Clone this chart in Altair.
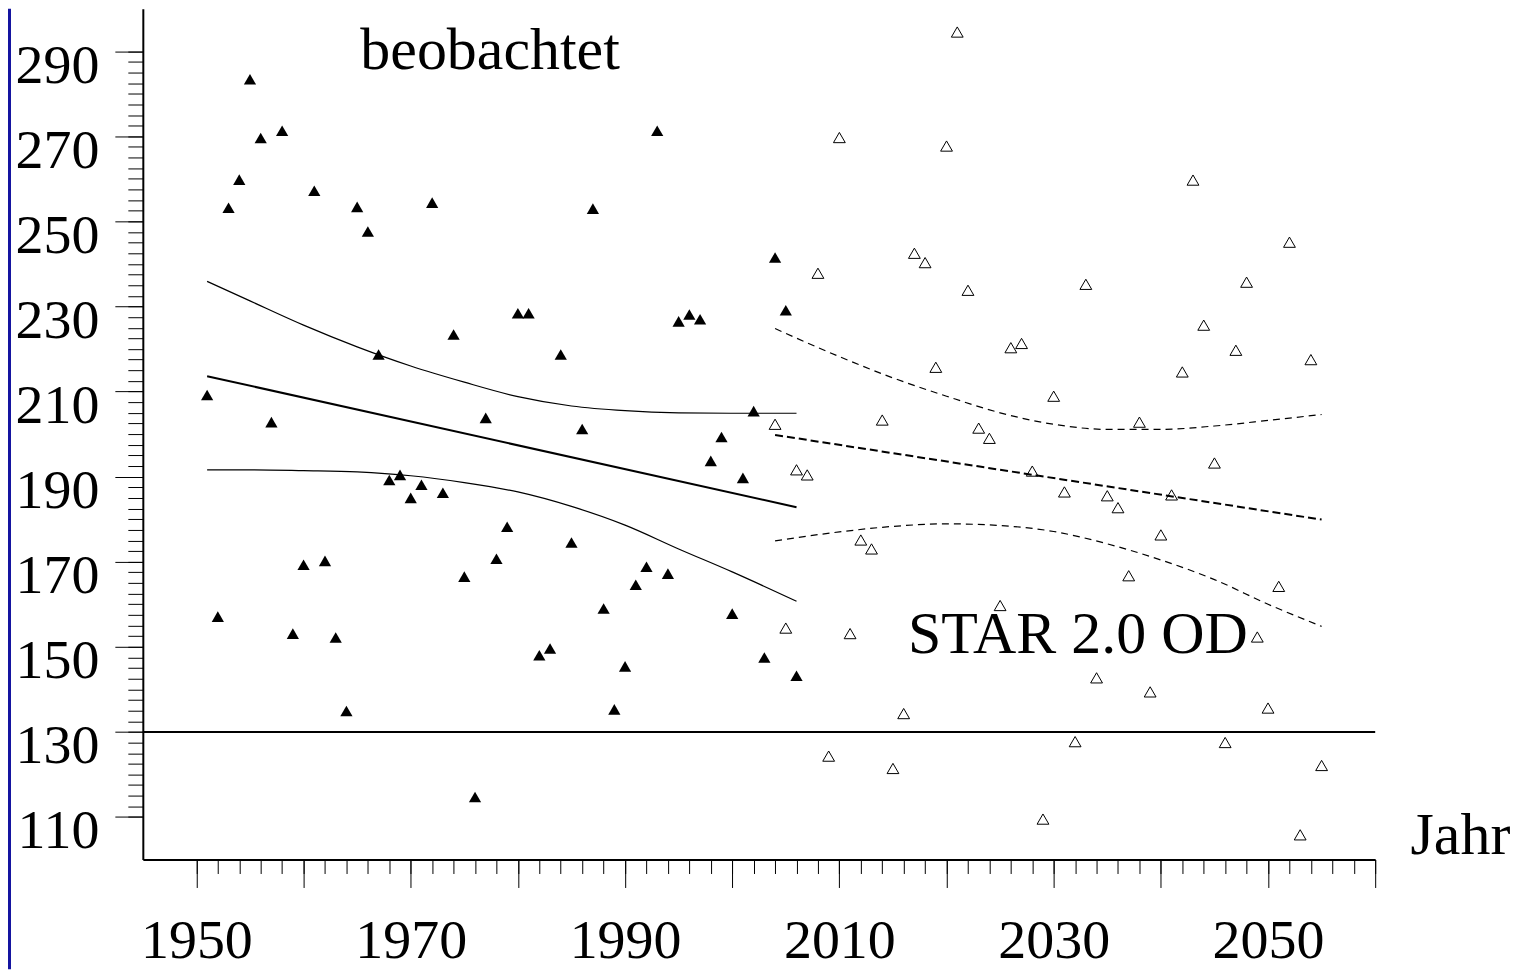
import altair as alt
import pandas as pd

FONT = "Liberation Serif"

# observed (filled triangles)
obs_years = list(range(1951, 2007))
obs_values = [209.2, 157.1, 253.2, 259.8, 283.4, 269.6, 202.8, 271.3, 153.1, 169.3,
              257.2, 170.2, 152.2, 134.9, 253.4, 247.6, 218.7, 189.2, 190.4, 185.0,
              188.1, 254.4, 186.2, 223.4, 166.5, 114.7, 203.8, 170.7, 178.2, 228.4,
              228.4, 148.0, 149.6, 218.7, 174.5, 201.2, 253.0, 159.0, 135.3, 145.4,
              164.6, 168.8, 271.3, 167.2, 226.5, 228.1, 227.0, 193.7, 199.3, 157.8,
              189.7, 205.4, 147.5, 241.5, 229.1, 143.2]

# projection (open triangles)
proj_years = list(range(2004, 2056))
proj_values = [202.3, 154.4, 191.6, 190.4, 237.8, 124.3, 269.7, 153.1, 175.1, 173.0,
               203.3, 121.4, 134.3, 242.5, 240.3, 215.7, 267.7, 294.5, 233.8, 201.4,
               199.0, 159.7, 220.3, 221.3, 191.3, 109.5, 208.9, 186.4, 127.7, 235.2,
               142.7, 185.5, 182.7, 166.7, 202.8, 139.4, 176.3, 185.7, 214.6, 259.7,
               225.6, 193.2, 127.5, 219.7, 235.7, 152.3, 135.6, 164.2, 245.1, 105.8,
               217.5, 122.1]

# observed trend and band
obs_fit_years = [1951, 2006]
obs_fit = [213.6, 182.8]
obs_band_years = [1951, 1955, 1960, 1965, 1970, 1975, 1980, 1985, 1990, 1995, 2000, 2006]
obs_upper = [235.9, 231.3, 225.6, 220.5, 216.0, 212.2, 208.8, 206.6, 205.5, 205.0, 204.9, 204.9]
obs_lower = [191.6, 191.6, 191.4, 191.1, 190.2, 188.6, 186.4, 183.0, 178.6, 173.0, 167.6, 160.7]

# projected trend and band
proj_fit_years = [2004, 2055]
proj_fit = [199.8, 179.9]
proj_band_years = [2004, 2010, 2015, 2020, 2025, 2030, 2035, 2040, 2045, 2050, 2055]
proj_upper = [224.8, 218.2, 213.2, 208.9, 205.0, 202.3, 201.1, 201.1, 201.9, 203.2, 204.6]
proj_lower = [174.9, 177.0, 178.3, 178.9, 178.5, 177.1, 174.2, 170.4, 165.8, 160.0, 154.8]

threshold = [130]

x_major = list(range(1950, 2061, 10))
x_minor = list(range(1950, 2061, 2))
y_major = list(range(110, 291, 20))
y_minor = [110 + 2.5 * i for i in range(73)]

labels = pd.DataFrame({
    "year": [1965.3, 2016.4, 2063.3],
    "value": [285.9, 148.6, 101.2],
    "text": ["beobachtet", "STAR 2.0 OD", "Jahr"],
})

xscale = alt.Scale(domain=[1945, 2060], nice=False, zero=False)
yscale = alt.Scale(domain=[100, 300], nice=False, zero=False)


def X(axis=None):
    return alt.X("year:Q", scale=xscale, axis=axis)


def Y(axis=None):
    return alt.Y("value:Q", scale=yscale, axis=axis)


x_axis_major = alt.Axis(values=x_major, format="d",
                        labelExpr="(datum.value - 1950) % 20 == 0 ? datum.label : ''",
                        orient="bottom", tickSize=28, tickWidth=1, tickColor="black",
                        domainWidth=2, domainColor="black", labelFont=FONT,
                        labelFontSize=56, labelColor="black", labelBaseline="alphabetic",
                        labelPadding=70, labelFlush=False, labelOverlap=False,
                        grid=False, title=None)
x_axis_minor = alt.Axis(values=x_minor, orient="bottom", tickSize=14, tickWidth=1,
                        tickColor="black", domain=False, labels=False, grid=False,
                        title=None)
y_axis_major = alt.Axis(values=y_major, format="d", orient="left", tickSize=28,
                        tickWidth=1, tickColor="black", domainWidth=2,
                        domainColor="black", labelFont=FONT, labelFontSize=56,
                        labelColor="black", labelBaseline="alphabetic", labelAlign="right",
                        labelPadding=16, labelOffset=31, labelFlush=False,
                        labelOverlap=False, grid=False, title=None)
y_axis_minor = alt.Axis(values=y_minor, orient="left", tickSize=15, tickWidth=1,
                        tickColor="black", domain=False, labels=False, grid=False,
                        title=None)

obs_df = pd.DataFrame({"year": obs_years, "value": obs_values})
proj_df = pd.DataFrame({"year": proj_years, "value": proj_values})

obs_pts = alt.Chart(obs_df).mark_point(shape="triangle-up", filled=True, size=150,
                                        color="black", opacity=1).encode(
    x=X(x_axis_major), y=Y(y_axis_major))
proj_pts = alt.Chart(proj_df).mark_point(shape="triangle-up", filled=False, size=140,
                                         color="black", strokeWidth=1, opacity=1).encode(
    x=X(x_axis_minor), y=Y(y_axis_minor))


def line(years, vals, width, dash=None):
    df = pd.DataFrame({"year": years, "value": vals})
    kw = dict(color="black", strokeWidth=width, interpolate="monotone")
    if dash:
        kw["strokeDash"] = dash
    return alt.Chart(df).mark_line(**kw).encode(x=X(), y=Y())


lines = [
    line(obs_fit_years, obs_fit, 2),
    line(obs_band_years, obs_upper, 1.2),
    line(obs_band_years, obs_lower, 1.2),
    line(proj_fit_years, proj_fit, 2, [8, 4]),
    line(proj_band_years, proj_upper, 1.2, [7, 5]),
    line(proj_band_years, proj_lower, 1.2, [7, 5]),
]

rule = alt.Chart(pd.DataFrame({"value": threshold})).mark_rule(
    color="black", strokeWidth=2).encode(y=Y())

texts = alt.Chart(labels).mark_text(align="left", baseline="alphabetic", font=FONT,
                                    fontSize=60, color="black").encode(
    x=X(), y=Y(), text="text:N")

blue = alt.Chart(pd.DataFrame({"a": [0]})).mark_rule(color="#1414a0", strokeWidth=3).encode(
    x=alt.value(-133.5), y=alt.value(0), y2=alt.value(962))

chart = alt.layer(obs_pts, proj_pts, rule, *lines, texts, blue).resolve_axis(
    x="independent", y="independent"
).properties(
    width=1234, height=852,
    padding={"left": 135, "top": 0, "right": 140, "bottom": 110},
    autosize=alt.AutoSizeParams(type="none"),
    background="white",
).configure_view(stroke=None)

chart.save("out.html", embed_options={"renderer": "svg", "actions": False})
